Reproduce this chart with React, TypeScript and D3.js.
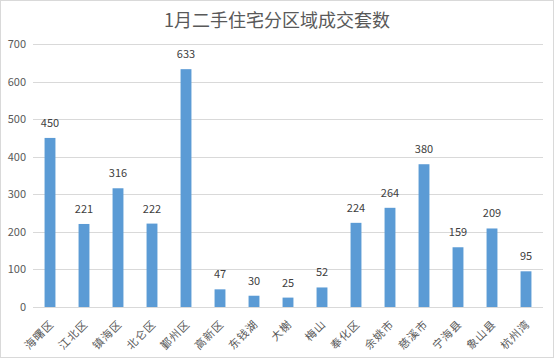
import React from "react";
import * as d3 from "d3";

const categories = ["海曙区", "江北区", "镇海区", "北仑区", "鄞州区", "高新区", "东钱湖", "大榭", "梅山", "奉化区", "余姚市", "慈溪市", "宁海县", "象山县", "杭州湾"];
const values = [450, 221, 316, 222, 633, 47, 30, 25, 52, 224, 264, 380, 159, 209, 95];
const yTicks = [0, 100, 200, 300, 400, 500, 600, 700];
const title = "1月二手住宅分区域成交套数";

const W = 555, H = 359;
const M = { left: 33, right: 12, top: 44, bottom: 52 };
const FONT = "'Noto Sans CJK SC', 'Microsoft YaHei', sans-serif";

export default function App() {
  const x = d3.scaleBand<string>().domain(categories).range([M.left, W - M.right]).paddingInner(0.68).paddingOuter(0.34);
  const y = d3.scaleLinear().domain([0, 700]).range([H - M.bottom, M.top]);
  return (
    <svg width={W} height={H} style={{ position: "absolute", left: 0, top: 0, background: "#fff" }} fontFamily={FONT}>
      <rect x={0.5} y={0.5} width={W - 2} height={H - 2} fill="#fff" stroke="#D9D9D9" />
      <text x={277} y={27} textAnchor="middle" fontSize={18} fill="#595959">{title}</text>
      {yTicks.map((t) => (
        <g key={t}>
          <line x1={M.left} x2={W - M.right} y1={Math.round(y(t)) + 0.5} y2={Math.round(y(t)) + 0.5} stroke="#D9D9D9" />
          <text x={26} y={y(t) + 4} textAnchor="end" fontSize={11} fill="#595959">{t}</text>
        </g>
      ))}
      {categories.map((c, i) => (
        <g key={c}>
          <rect x={x(c)} y={y(values[i])} width={x.bandwidth()} height={y(0) - y(values[i])} fill="#5B9BD5" />
          <text x={x(c)! + x.bandwidth() / 2} y={y(values[i]) - 11} textAnchor="middle" fontSize={11} fill="#404040">{values[i]}</text>
          <text transform={`translate(${x(c)! + x.bandwidth() / 2 + 2},${y(0) + 15}) rotate(-45)`} textAnchor="end" dy="0.35em" fontSize={11} letterSpacing={1} fill="#595959">{c}</text>
        </g>
      ))}
    </svg>
  );
}
